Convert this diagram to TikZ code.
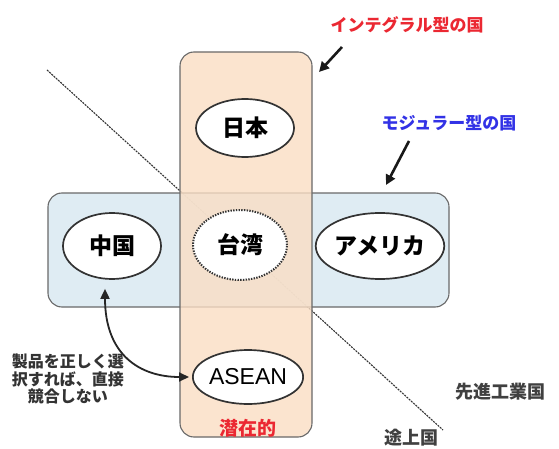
\documentclass[tikz,border=0pt]{standalone}
\usepackage{fontspec}
\setmainfont{Liberation Sans}
\newfontfamily\jp{Noto Sans CJK JP}
\usetikzlibrary{arrows.meta,shapes.geometric}
\definecolor{orangebox}{RGB}{250,222,196}
\definecolor{bluebox}{RGB}{218,233,242}
\definecolor{edgegray}{RGB}{105,105,105}
\definecolor{redtxt}{RGB}{235,40,50}
\definecolor{bluetxt}{RGB}{50,50,230}
\tikzset{
  country/.style={ellipse, draw=black!80, line width=1.7pt, fill=white, inner sep=0pt,
    font=\jp\bfseries\fontsize{23}{26}\selectfont},
  groupbox/.style={rectangle, rounded corners=14pt, draw=edgegray, line width=1.1pt, inner sep=0pt},
  divider/.style={draw=black!80, line width=1.1pt, dash pattern=on 2pt off 1pt},
  pointer/.style={draw=black!90, line width=2.6pt, -{Triangle[length=10pt,width=10pt]}},
  note/.style={font=\jp\fontsize{17}{19}\selectfont, inner sep=0pt},
}
\begin{document}
\begin{tikzpicture}[x=1pt,y=-1pt]
\useasboundingbox (0,0) rectangle (559,449);
\fill[white] (0,0) rectangle (559,449);
% diagonal divider
\coordinate (d1) at (47,70);
\coordinate (d2) at (443,430);
\draw[divider] (d1) -- (d2);
% group boxes
\node[groupbox, fill=bluebox, fill opacity=0.85, minimum width=401pt, minimum height=114pt] (modular) at (248.5,250) {};
\node[groupbox, fill=orangebox, fill opacity=0.8, minimum width=132pt, minimum height=385pt] (integral) at (246,244.5) {};
% countries
\node[country, minimum width=98pt, minimum height=58pt] (jp) at (245,128) {日本};
\node[country, minimum width=98pt, minimum height=66pt] (cn) at (112,246) {中国};
\node[country, draw=black!80, dash pattern=on 1.4pt off 1.3pt, line width=2pt, minimum width=94pt, minimum height=70pt] (tw) at (240,245) {台湾};
\node[country, minimum width=94pt, minimum height=66pt] (us) at (380,246) {アメリカ};
\node[country, font=\fontsize{23}{26}\selectfont, minimum width=93pt, minimum height=54pt] (as) at (248,377) {ASEAN};
\node[note, text=redtxt, font=\jp\bfseries\fontsize{19}{21}\selectfont] (latent) at (248,428) {潜在的};
% labels
\node[note, text=redtxt, font=\jp\bfseries\fontsize{17}{19}\selectfont] (intl) at (407,25) {インテグラル型の国};
\node[note, text=bluetxt, font=\jp\bfseries\fontsize{17}{19}\selectfont] (modl) at (449,123) {モジュラー型の国};
\coordinate (p1s) at (342,47);
\coordinate (p1e) at (319,72);
\draw[pointer] (p1s) -- (p1e);
\coordinate (p2s) at (409,141);
\coordinate (p2e) at (386,185);
\draw[pointer] (p2s) -- (p2e);
% double arrow
\draw[draw=black!85, line width=1.8pt, {Triangle[length=10pt,width=9pt]}-{Triangle[length=10pt,width=9pt]}, shorten <=9pt, shorten >=3pt]
  ([xshift=-7pt]cn.south) .. controls (105,355) and (140,377) .. (as.west);
\node[note, align=center, font=\jp\bfseries\fontsize{16}{17.5}\selectfont, text=black!80] (remark) at (68,379) {製品を正しく選\\択すれば、直接\\競合しない};
\node[note, font=\jp\bfseries\fontsize{18}{20}\selectfont, text=black!75] (adv) at (500,392) {先進工業国};
\node[note, font=\jp\bfseries\fontsize{18}{20}\selectfont, text=black!75] (dev) at (411,438) {途上国};
\end{tikzpicture}
\end{document}
